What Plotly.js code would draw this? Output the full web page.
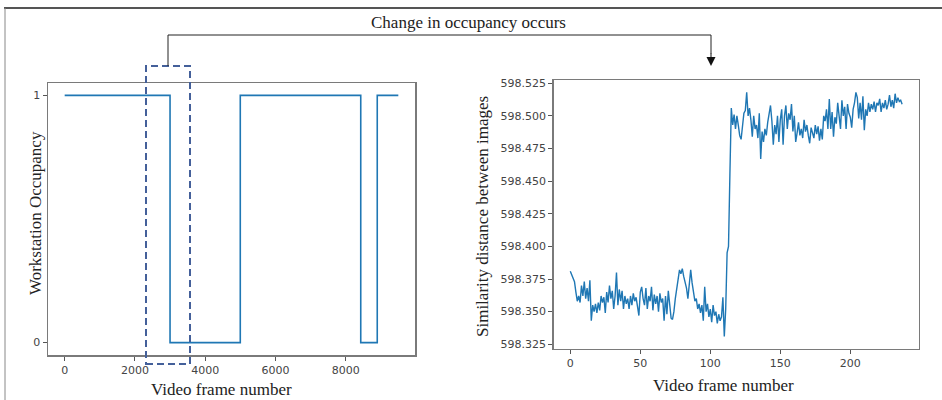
<!DOCTYPE html>
<html>
<head>
<meta charset="utf-8">
<script src="https://cdn.plot.ly/plotly-3.0.1.min.js"></script>
<style>html,body{margin:0;padding:0;background:#fff;}#chart{width:942px;height:400px;}</style>
</head>
<body>
<div id="chart"></div>
<script>
// Left panel: workstation occupancy (step signal)
const occFrames = [0, 3000, 3000, 5000, 5000, 8430, 8430, 8900, 8900, 9500];
const occValues = [1, 1, 0, 0, 1, 1, 0, 0, 1, 1];

// Right panel: similarity distance between images per frame
const simValues = [
 598.381,598.378,598.375,598.373,598.365,598.358,598.362,598.357,598.370,598.362,
 598.373,598.360,598.368,598.358,598.374,598.343,598.355,598.350,598.356,598.349,
 598.357,598.351,598.362,598.357,598.361,598.349,598.365,598.357,598.370,598.360,
 598.366,598.352,598.362,598.380,598.355,598.367,598.358,598.366,598.352,598.362,
 598.356,598.360,598.352,598.362,598.355,598.364,598.358,598.361,598.354,598.347,
 598.365,598.369,598.360,598.355,598.368,598.352,598.362,598.358,598.369,598.351,
 598.363,598.356,598.362,598.350,598.364,598.357,598.360,598.343,598.362,598.348,
 598.366,598.352,598.345,598.344,598.350,598.360,598.368,598.375,598.382,598.379,
 598.383,598.377,598.373,598.368,598.360,598.372,598.382,598.372,598.365,598.358,
 598.360,598.352,598.356,598.349,598.355,598.343,598.369,598.350,598.356,598.346,
 598.352,598.342,598.355,598.347,598.350,598.341,598.348,598.343,598.346,598.361,
 598.331,598.352,598.395,598.400,598.455,
 598.506,598.493,598.501,598.490,598.500,
 598.493,598.485,598.482,598.495,598.502,598.504,598.518,598.500,598.506,598.497,
 598.484,598.500,598.490,598.493,598.483,598.502,598.467,598.488,598.480,598.490,
 598.485,598.495,598.503,598.508,598.496,598.478,598.493,598.486,598.500,598.480,
 598.497,598.505,598.478,598.500,598.508,598.490,598.502,598.497,598.509,598.488,
 598.500,598.480,598.487,598.495,598.485,598.490,598.483,598.497,598.488,598.493,
 598.485,598.479,598.491,598.487,598.483,598.493,598.486,598.492,598.481,598.490,
 598.482,598.500,598.496,598.505,598.490,598.513,598.490,598.503,598.484,598.499,
 598.494,598.510,598.498,598.490,598.512,598.500,598.507,598.490,598.509,598.502,
 598.499,598.491,598.505,598.510,598.518,598.514,598.498,598.510,598.497,598.515,
 598.489,598.505,598.500,598.510,598.503,598.509,598.505,598.511,598.503,598.510,
 598.508,598.513,598.503,598.510,598.506,598.512,598.505,598.509,598.516,598.507,
 598.512,598.506,598.517,598.510,598.514,598.511,598.512,598.509
];
const simFrames = simValues.map((_, i) => i);

const leftXTicks = [0, 2000, 4000, 6000, 8000];
const leftYTicks = [0, 1];
const rightXTicks = [0, 50, 100, 150, 200];
const rightYTicks = [598.325, 598.350, 598.375, 598.400, 598.425, 598.450, 598.475, 598.500, 598.525];

const W = 942, H = 400;
const px = v => v / W;
const py = v => 1 - v / H;

const lineColor = '#1f77b4';
const tickFont = {family: 'DejaVu Sans', size: 11, color: '#444'};
const serif = 'Liberation Serif, Times New Roman, serif';
const titleFont = {family: serif, size: 17, color: '#222'};
const spine = '#7a7a7a';

const axisCommon = {
  showline: true, mirror: true, linecolor: spine, linewidth: 1.5,
  ticks: 'outside', ticklen: 4, tickcolor: '#555', tickwidth: 1,
  showgrid: false, zeroline: false, tickfont: tickFont, automargin: false,
  fixedrange: true
};

const traces = [
  {x: occFrames, y: occValues, type: 'scatter', mode: 'lines',
   line: {color: lineColor, width: 1.6}, xaxis: 'x', yaxis: 'y', hoverinfo: 'skip'},
  {x: simFrames, y: simValues, type: 'scatter', mode: 'lines',
   line: {color: lineColor, width: 1.4}, xaxis: 'x2', yaxis: 'y2', hoverinfo: 'skip'}
];

const layout = {
  width: W, height: H,
  margin: {l: 0, r: 0, t: 0, b: 0},
  paper_bgcolor: '#fff', plot_bgcolor: '#fff',
  showlegend: false,
  xaxis: Object.assign({}, axisCommon, {
    domain: [px(48), px(415)], range: [-475, 9975],
    tickvals: leftXTicks, ticktext: leftXTicks.map(String)
  }),
  yaxis: Object.assign({}, axisCommon, {
    domain: [py(355), py(83)], range: [-0.05, 1.05],
    tickvals: leftYTicks, ticktext: leftYTicks.map(String)
  }),
  xaxis2: Object.assign({}, axisCommon, {
    anchor: 'y2',
    domain: [px(553.7), px(918.7)], range: [-11.85, 248.85],
    tickvals: rightXTicks, ticktext: rightXTicks.map(String)
  }),
  yaxis2: Object.assign({}, axisCommon, {
    anchor: 'x2',
    domain: [py(348.7), py(80)], range: [598.3216, 598.5275],
    tickvals: rightYTicks, ticktext: rightYTicks.map(v => v.toFixed(3))
  }),
  shapes: [
    // outer figure frame (top and left edges)
    {type: 'line', xref: 'paper', yref: 'paper', x0: px(4), x1: 1, y0: py(8), y1: py(8),
     line: {color: '#555', width: 2}},
    {type: 'line', xref: 'paper', yref: 'paper', x0: px(5), x1: px(5), y0: py(8), y1: 0,
     line: {color: '#888', width: 1}},
    // dashed highlight box
    {type: 'rect', xref: 'paper', yref: 'paper', x0: px(146), x1: px(190), y0: py(364), y1: py(66),
     line: {color: '#44609a', width: 2, dash: '7px,4px'}},
    // bracket connector
    {type: 'path', xref: 'paper', yref: 'paper',
     path: `M ${px(168)} ${py(66)} L ${px(168)} ${py(35)} L ${px(711)} ${py(35)} L ${px(711)} ${py(54)}`,
     line: {color: '#222', width: 1}}
  ],
  annotations: [
    {text: 'Change in occupancy occurs', xref: 'paper', yref: 'paper',
     x: px(468), y: py(22), xanchor: 'center', yanchor: 'middle', showarrow: false,
     font: {family: serif, size: 17, color: '#222'}},
    {text: '', xref: 'paper', yref: 'paper', x: px(711), y: py(66),
     ax: 0, ay: -14, showarrow: true, arrowhead: 2, arrowsize: 1.8, arrowwidth: 1,
     arrowcolor: '#111'},
    // axis titles
    {text: 'Video frame number', xref: 'paper', yref: 'paper', x: px(221), y: py(389),
     xanchor: 'center', yanchor: 'middle', showarrow: false, font: titleFont},
    {text: 'Workstation Occupancy', xref: 'paper', yref: 'paper', x: px(35), y: py(213),
     xanchor: 'center', yanchor: 'middle', textangle: -90, showarrow: false, font: titleFont},
    {text: 'Video frame number', xref: 'paper', yref: 'paper', x: px(723), y: py(385),
     xanchor: 'center', yanchor: 'middle', showarrow: false, font: titleFont},
    {text: 'Similarity distance between images', xref: 'paper', yref: 'paper', x: px(482), y: py(217),
     xanchor: 'center', yanchor: 'middle', textangle: -90, showarrow: false, font: titleFont}
  ]
};

Plotly.newPlot('chart', traces, layout, {staticPlot: true, displayModeBar: false});
</script>
</body>
</html>
